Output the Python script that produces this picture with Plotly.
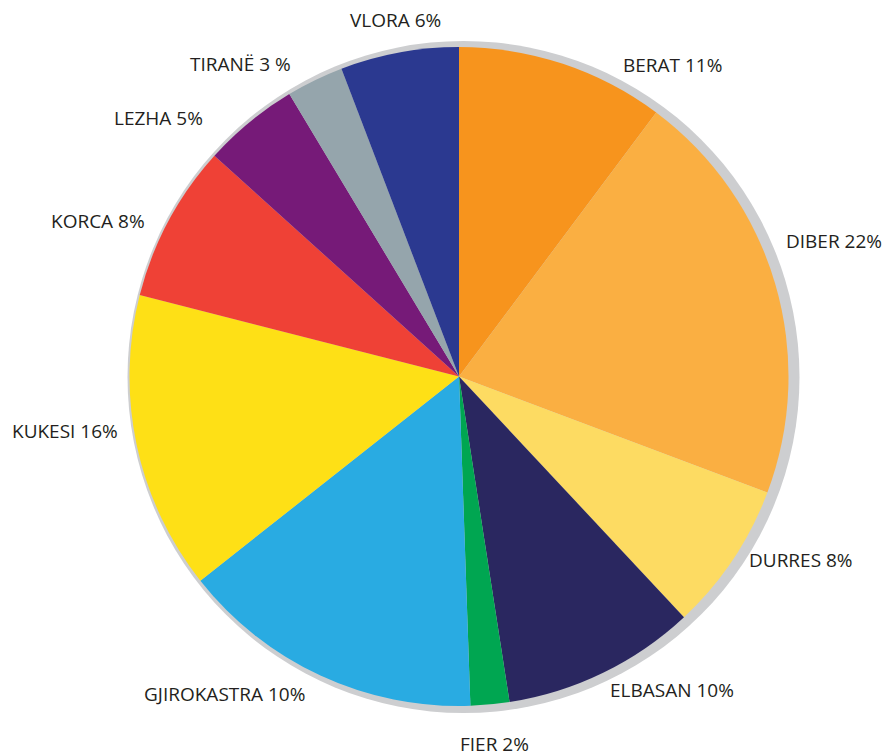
import plotly.graph_objects as go

regions = ["BERAT", "DIBER", "DURRES", "ELBASAN", "FIER", "GJIROKASTRA",
           "KUKESI", "KORCA", "LEZHA", "TIRANË", "VLORA"]
shares = [10.2, 20.5, 7.3, 9.5, 1.9, 14.9, 14.6, 7.7, 4.7, 2.8, 5.8]
label_texts = ["BERAT 11%", "DIBER 22%", "DURRES 8%", "ELBASAN 10%", "FIER 2%",
               "GJIROKASTRA 10%", "KUKESI 16%", "KORCA 8%", "LEZHA 5%",
               "TIRANË 3 %", "VLORA 6%"]

colors = ["#F7941D", "#FAAF42", "#FDDB62", "#2A2760", "#00A651", "#29ABE2",
          "#FEE016", "#EF4136", "#761A78", "#95A5AC", "#2B3990"]

# label positions in pixels (center of text) — layout only
label_px = [(672, 65), (834, 241), (801, 560), (672, 690), (495, 744),
            (224, 694), (65, 431), (98, 221), (158, 118), (240, 64), (395, 20)]

W, H = 885, 756

def dom(cx, cy, r):
    return dict(x=[(cx - r) / W, (cx + r) / W],
                y=[(H - cy - r) / H, (H - cy + r) / H])

fig = go.Figure()
# gray backing disc (shadow rim)
fig.add_trace(go.Pie(values=[1], labels=["rim"], marker=dict(colors=["#CDCED0"]),
                     textinfo="none", hoverinfo="skip", showlegend=False,
                     sort=False, domain=dom(463.5, 377, 336)))
fig.add_trace(go.Pie(values=shares, labels=regions, marker=dict(colors=colors, line=dict(width=0)),
                     textinfo="none", sort=False, direction="clockwise", rotation=0,
                     showlegend=False, domain=dom(459, 376.5, 329.5)))

for t, (px, py) in zip(label_texts, label_px):
    fig.add_annotation(x=px / W, y=1 - py / H, xref="paper", yref="paper",
                       text=t, showarrow=False, xanchor="center", yanchor="middle",
                       font=dict(family="Open Sans", size=19, color="#231F20"))

fig.update_layout(width=W, height=H, margin=dict(l=0, r=0, t=0, b=0),
                  paper_bgcolor="white", plot_bgcolor="white", showlegend=False)
fig.write_html("out.html", config={"displayModeBar": False},
               post_script="document.body.style.margin='0';document.body.style.overflow='hidden';")
